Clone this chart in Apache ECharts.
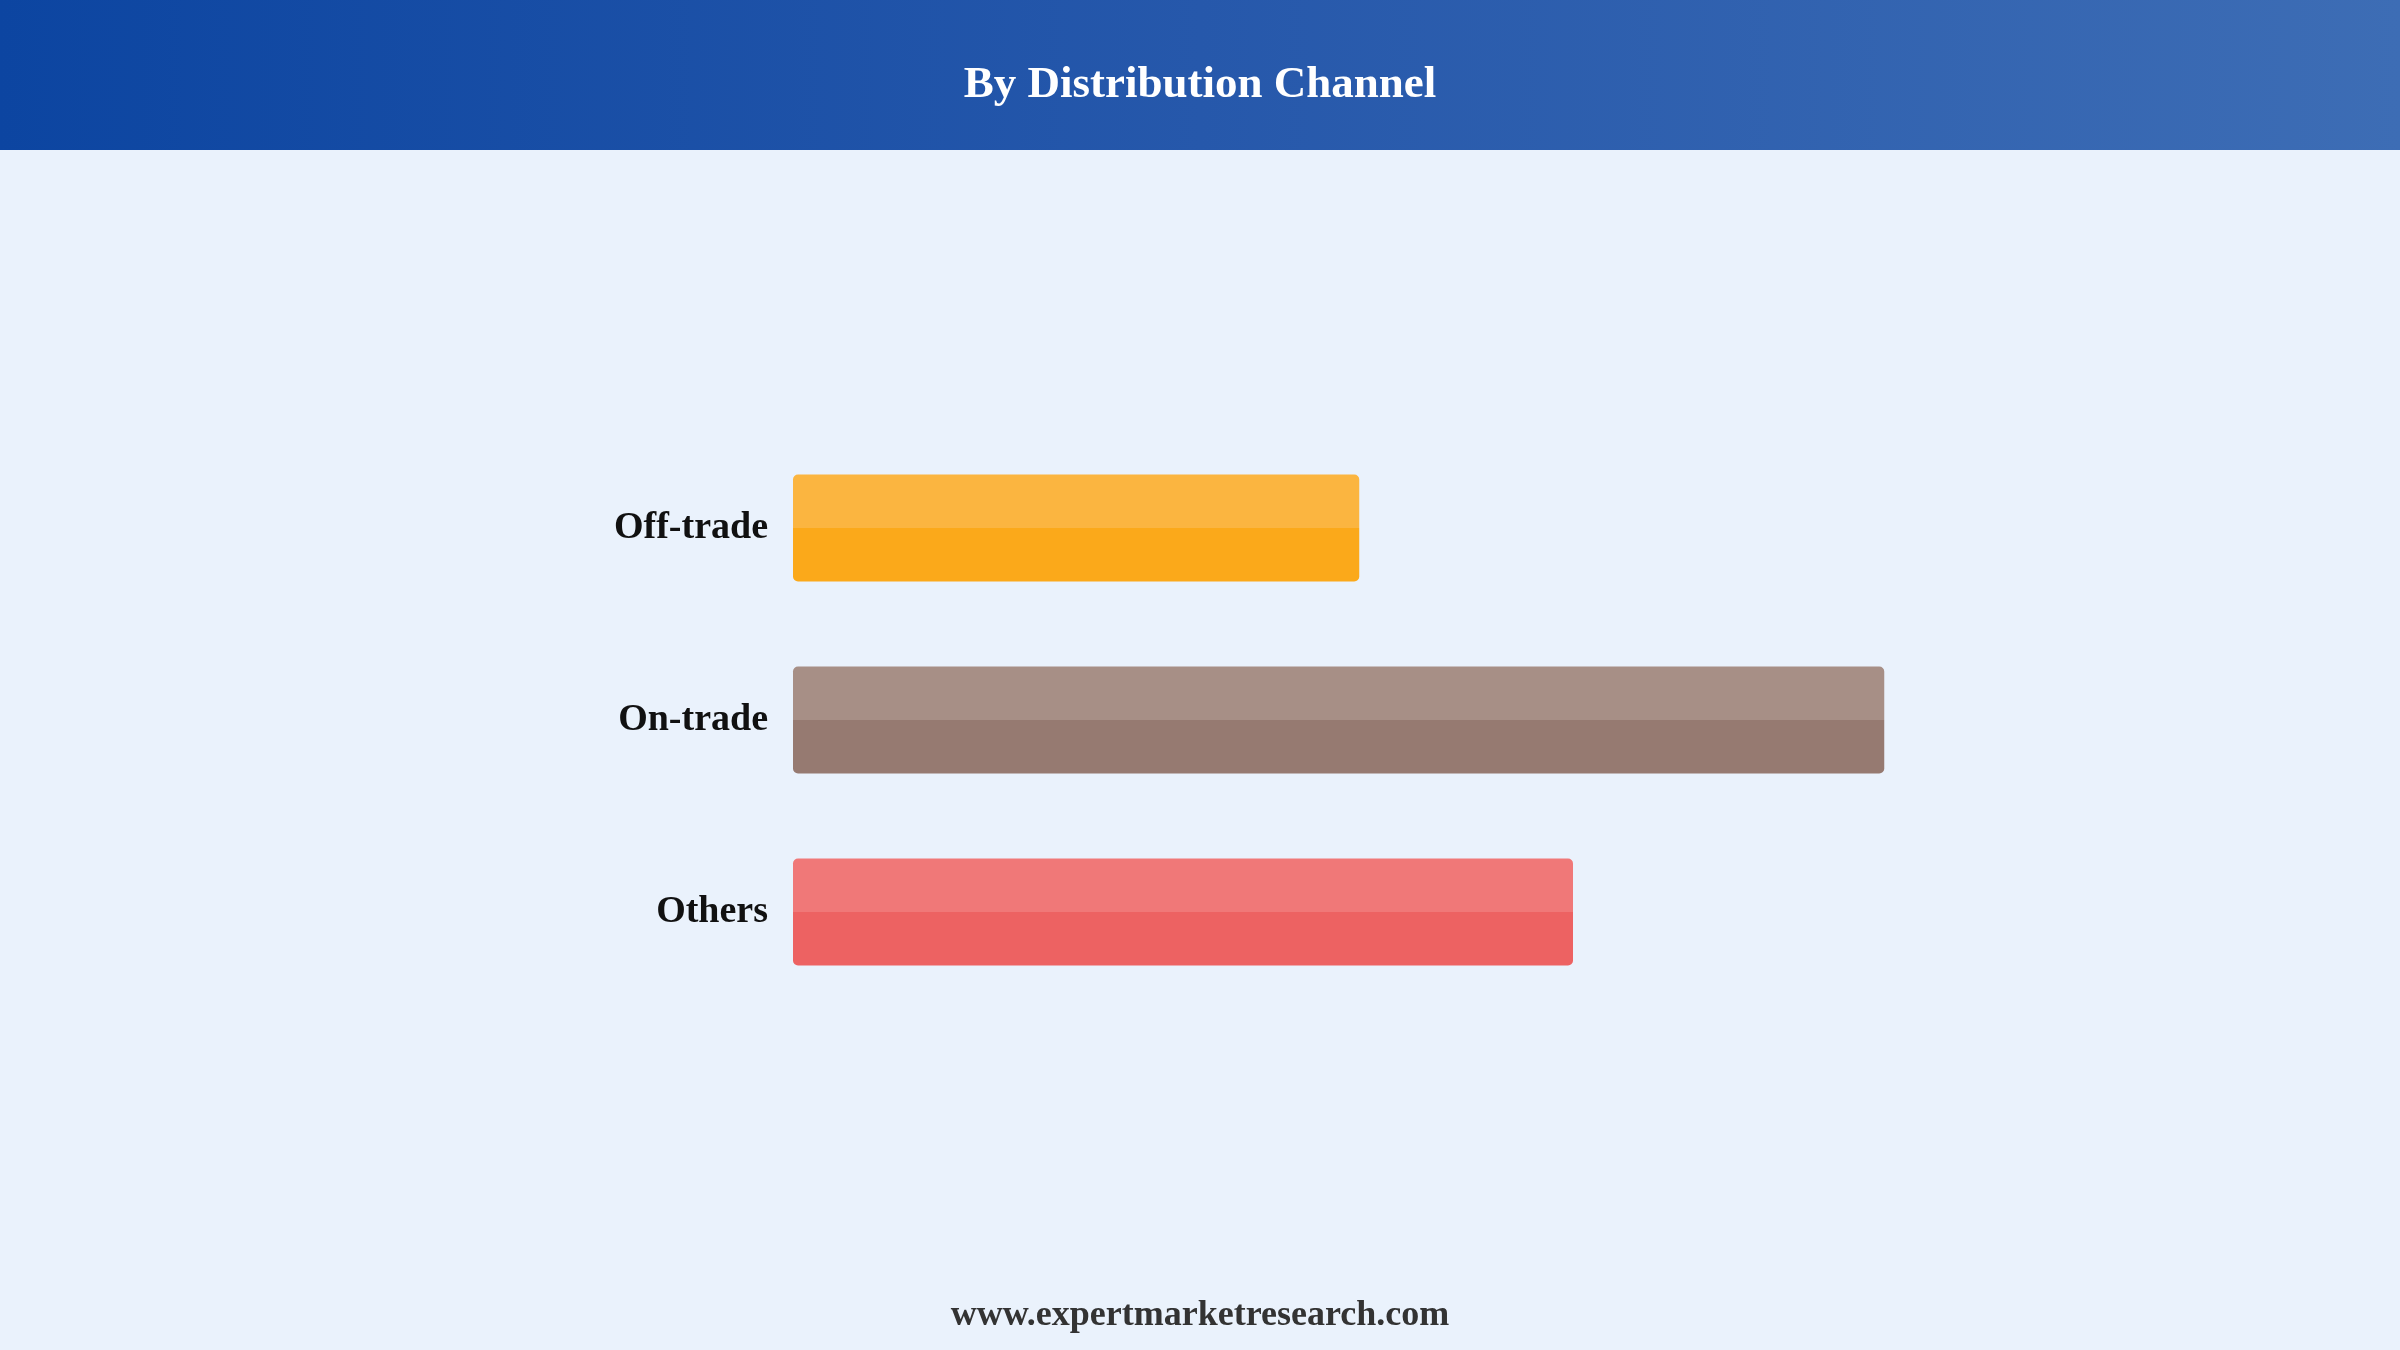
<!DOCTYPE html>
<html>
<head>
<meta charset="utf-8">
<title>By Distribution Channel</title>
<script src="https://cdn.jsdelivr.net/npm/echarts@6/dist/echarts.min.js"></script>
<style>
  html, body { margin: 0; padding: 0; background: #eaf2fc; }
  #main { width: 2400px; height: 1350px; }
</style>
</head>
<body>
<div id="main"></div>
<script>
// data (relative bar lengths, no axis shown)
var channels = ['Off-trade', 'On-trade', 'Others'];
var shares = [45.3, 87.3, 62.4];
var topColors = ['#fbb540', '#a78f86', '#f07878'];
var bottomColors = ['#fba91a', '#967a71', '#ed6262'];

var serif = '"Times New Roman", "Liberation Serif", serif';

var chart = echarts.init(document.getElementById('main'));

// two-tone bar: lighter upper half, darker lower half
function barFill(i) {
  return new echarts.graphic.LinearGradient(0, 0, 0, 1, [
    { offset: 0, color: topColors[i] },
    { offset: 0.5, color: topColors[i] },
    { offset: 0.5, color: bottomColors[i] },
    { offset: 1, color: bottomColors[i] }
  ]);
}

var barData = shares.map(function (v, i) {
  return { value: v, itemStyle: { color: barFill(i) } };
});

var option = {
  backgroundColor: '#eaf2fc',
  animation: false,
  graphic: [{
    type: 'rect',
    left: 0, top: 0, z: 0,
    shape: { width: 2400, height: 150 },
    style: {
      fill: new echarts.graphic.LinearGradient(0, 0, 1, 0, [
        { offset: 0, color: '#0c45a1' },
        { offset: 0.5, color: '#2658ab' },
        { offset: 1, color: '#3d6db5' }
      ])
    }
  }],
  title: [{
    text: 'By Distribution Channel',
    left: 'center',
    top: 58,
    textStyle: { color: '#ffffff', fontFamily: serif, fontWeight: 'bold', fontSize: 45 }
  }, {
    text: 'www.expertmarketresearch.com',
    left: 'center',
    top: 1293,
    textStyle: { color: '#333333', fontFamily: serif, fontWeight: 'bold', fontSize: 36 }
  }],
  grid: { left: 793, right: 357, top: 432, bottom: 342, containLabel: false },
  xAxis: {
    type: 'value',
    min: 0,
    max: 100,
    show: false
  },
  yAxis: {
    type: 'category',
    data: channels,
    inverse: true,
    axisLine: { show: false },
    axisTick: { show: false },
    splitLine: { show: false },
    axisLabel: {
      margin: 25,
      color: '#111111',
      fontFamily: serif,
      fontWeight: 'bold',
      fontSize: 38,
      padding: [4, 0, 0, 0]
    }
  },
  series: [{
    type: 'bar',
    data: barData,
    barWidth: 107,
    itemStyle: { borderRadius: 5 }
  }]
};

chart.setOption(option);
</script>
</body>
</html>
